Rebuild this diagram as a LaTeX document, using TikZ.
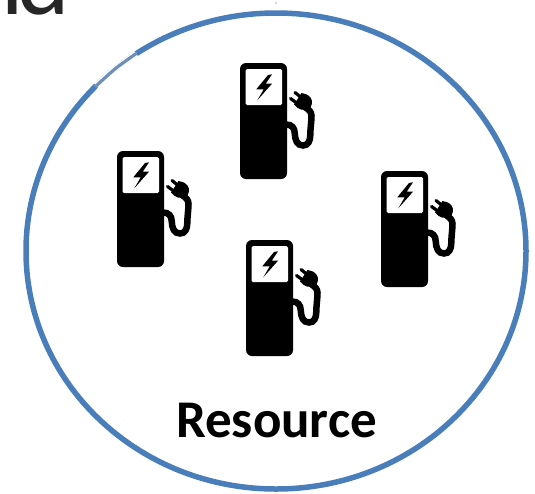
\documentclass[tikz,border=0pt]{standalone}
\usepackage{fontspec}
\setmainfont{Carlito}
\definecolor{ringblue}{HTML}{4A7EBB}
\definecolor{ringfade}{HTML}{6F8FB8}
\definecolor{inkdark}{HTML}{262626}
\tikzset{
  x=1pt,y=-1pt,
  ring/.style={draw=ringblue,line width=5.5pt},
  pump/.pic={
    \fill[black,rounded corners=6pt] (0,0) rectangle (47,116);
    \fill[white,rounded corners=1.5pt] (5.5,6) rectangle (42,42);
    \fill[black] (32,11.3) -- (28,12) -- (16.3,26.3) -- (23.7,26.3) -- (17.3,37.3) -- (32,20.7) -- (25.7,20.7) -- cycle;
    \draw[black,line width=6.5pt,line cap=round] (46,61.5) .. controls (52,61.5) and (54.5,65) .. (54.7,70)
      .. controls (55,77) and (57,82.5) .. (63,82.5) .. controls (68,82.5) and (70.3,78) .. (70.3,72)
      .. controls (70.3,66) and (71.5,58) .. (71.5,53) .. controls (71.5,49) and (69,46.5) .. (65.5,44.5);
    \fill[black] (61.5,30) -- (54,41.5) .. controls (58,47) and (64,48) .. (68.5,46)
      .. controls (72.5,43.5) and (73,38) .. (70.5,34.5) .. controls (68,31.5) and (65,30.5) .. (61.5,30) -- cycle;
    \draw[black,line width=3.2pt,line cap=round] (60,33.5) -- (55,29.5);
    \draw[black,line width=3.2pt,line cap=round] (56,39.5) -- (50.5,35.5);
  }
}
\begin{document}
\begin{tikzpicture}
\useasboundingbox (0,0) rectangle (535,493);
\begin{scope}
\clip (0,0) rectangle (535,493);
\node[anchor=base west,inner sep=0,font=\fontsize{100}{100}\selectfont,text=inkdark] (frag) at (-30,14) {n\kern-5pt d};
\end{scope}
\draw[ring] (276,251) ellipse [x radius=250,y radius=238];
\draw[white,line width=6pt] plot[smooth] coordinates {(96.2,85.7) (115.3,68.7) (136.2,53.7)};
\draw[ringfade,line width=3.2pt] plot[smooth] coordinates {(95,87) (115.3,68.7) (137,53)};
\fill[black!70] (276,3) circle (0.7);
\pic at (117,151) {pump};
\pic at (240,63) {pump};
\pic at (246,240) {pump};
\pic at (381,171) {pump};
\node[anchor=base,inner sep=0,font=\fontsize{53}{53}\selectfont\bfseries] (lbl) at (276.5,437) {Resource};
\end{tikzpicture}
\end{document}
